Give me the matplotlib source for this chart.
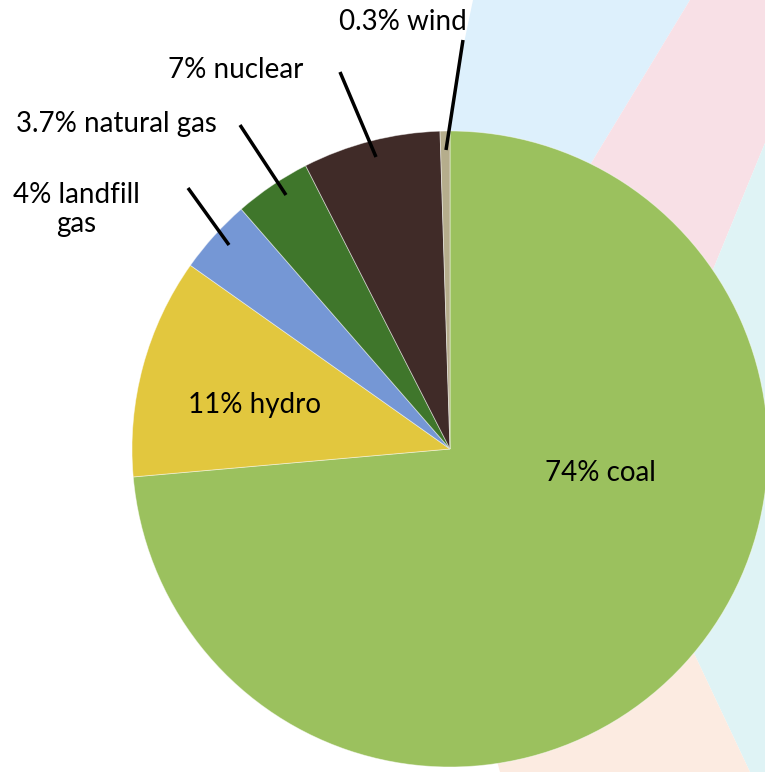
import matplotlib
matplotlib.use("Agg")
import matplotlib.pyplot as plt
from matplotlib.patches import Polygon

# ---- data ----
categories = ["coal", "hydro", "landfill gas", "natural gas", "nuclear", "wind"]
# slice sizes as drawn in the picture (%)
shares = [73.6, 11.2, 3.8, 3.9, 7.0, 0.5]
labels = ["74% coal", "11% hydro", "4% landfill\ngas", "3.7% natural gas", "7% nuclear", "0.3% wind"]
colors = ["#9BC15E", "#E2C73E", "#7597D5", "#3F762B", "#402B28", "#B5AD8C"]

W, H = 765, 772
fig = plt.figure(figsize=(W / 100, H / 100), dpi=100)
ax = fig.add_axes([0, 0, 1, 1])

def Y(y):
    return H - y

# faded decorative background bands
bg = [
    ("#DDF0FC", [(473, 0), (690, 0), (530, 264), (450, 300), (450, 110)]),
    ("#F8E0E6", [(690, 0), (765, 0), (765, 143), (680, 350), (530, 264)]),
    ("#DFF3F5", [(765, 143), (765, 772), (750, 772), (650, 560), (680, 350)]),
    ("#FCEBE1", [(750, 772), (650, 560), (480, 700), (500, 772)]),
]
for c, pts in bg:
    ax.add_patch(Polygon([(x, Y(y)) for x, y in pts], closed=True,
                         facecolor=c, edgecolor="none", zorder=0))

ax.pie(shares, colors=colors, startangle=90, counterclock=False,
       center=(450, Y(449)), radius=318, frame=True,
       wedgeprops=dict(edgecolor=(1, 1, 1, 0.5), linewidth=0.6))

fs = 20
fam = ["Lato", "DejaVu Sans"]
# label positions (center x, baseline y of first line) in pixels
pos = [(600, 481), (255, 413), (76, 203), (116, 132), (236, 78), (403, 30)]
for lab, (x, y) in zip(labels, pos):
    lines = lab.split("\n")
    for i, ln in enumerate(lines):
        ax.text(x, Y(y + 29 * i), ln, ha="center", va="baseline", fontsize=fs,
                family=fam, color="black", zorder=5)

# leader lines
leaders = [((188, 188), (229, 245)), ((240, 125), (286, 195)),
           ((340, 72), (376, 157)), ((463, 40), (446, 150))]
for (x1, y1), (x2, y2) in leaders:
    ax.plot([x1, x2], [Y(y1), Y(y2)], color="black", lw=2.5,
            solid_capstyle="butt", zorder=6)

ax.set_xlim(0, W)
ax.set_ylim(0, H)
ax.set_aspect("equal")
ax.axis("off")
fig.savefig("out.png", dpi=100)
